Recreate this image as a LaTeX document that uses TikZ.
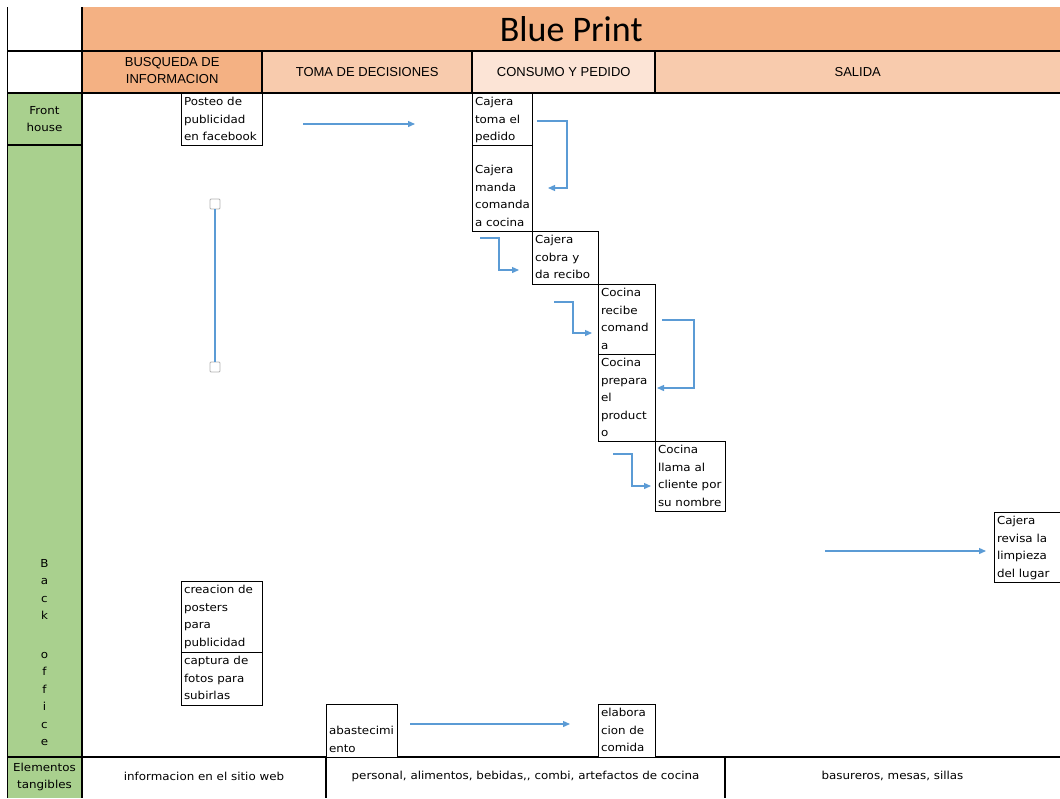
\documentclass[tikz,border=0pt]{standalone}
\usepackage{fontspec}
\usetikzlibrary{arrows.meta}
\newfontfamily\pxfont[FakeStretch=1.08]{DejaVu Sans}
\newfontfamily\hdfont{Liberation Sans}
\newfontfamily\ttlfont{Carlito}
\definecolor{hband}{HTML}{F4B183}
\definecolor{hlight}{HTML}{F8CBAD}
\definecolor{hpale}{HTML}{FCE4D6}
\definecolor{lgreen}{HTML}{A9D08E}
\definecolor{flowblue}{HTML}{5B9BD5}
\newcommand\bxt[4]{\parbox[c][#1pt][#3]{#2pt}{\raggedright\strut#4\strut}}
\begin{document}
\begin{tikzpicture}[x=1pt,y=-1pt,
  fillcell/.style={fill=#1, draw=none, inner sep=0pt, anchor=north west},
  box/.style={draw=black, line width=1pt, fill=white, inner xsep=2.5pt, inner ysep=0pt, anchor=north west, font=\pxfont\fontsize{11}{17.5}\selectfont},
  flow/.style={draw=flowblue, line width=1.3pt, -{Triangle[length=7pt,width=6pt]}},
  gridline/.style={draw=black, line width=1.3pt},
  hdr/.style={font=\hdfont\fontsize{13}{17}\selectfont, align=center},
  px/.style={font=\pxfont\fontsize{11}{17.5}\selectfont, align=center, inner sep=0pt},
  handle/.style={draw=gray!60, fill=white, line width=0.9pt, rounded corners=1pt, minimum size=10pt, inner sep=0pt}]
\useasboundingbox (0,0) rectangle (1060,798);
% header fills
\node[fillcell=hband, minimum width=978pt, minimum height=44pt, font=\ttlfont\fontsize{36}{40}\selectfont] (band) at (82,7) {Blue Print};
\node[fillcell=hband, minimum width=180pt, minimum height=42pt, hdr] (busq) at (82,51) {\raisebox{3pt}{\shortstack[c]{BUSQUEDA DE\\[2pt]INFORMACION}}};
\node[fillcell=hlight, minimum width=210pt, minimum height=42pt, hdr] (toma) at (262,51) {TOMA DE DECISIONES};
\node[fillcell=hpale, minimum width=183pt, minimum height=42pt, hdr] (consumo) at (472,51) {CONSUMO Y PEDIDO};
\node[fillcell=hlight, minimum width=405pt, minimum height=42pt, hdr] (salida) at (655,51) {SALIDA};
% left column fills
\node[fillcell=lgreen, minimum width=75pt, minimum height=52pt] (frontcell) at (7,93) {};
\node[fillcell=lgreen, minimum width=75pt, minimum height=612pt] (backcell) at (7,145) {};
\node[fillcell=lgreen, minimum width=75pt, minimum height=41pt] (elemcell) at (7,757) {};
% grid lines
\draw[gridline] (7.5,7) -- (7.5,798);
\draw[gridline] (82,7) -- (82,798);
\draw[gridline] (7,51) -- (1060,51);
\draw[gridline] (7,93) -- (1060,93);
\draw[gridline] (7,145) -- (82,145);
\draw[gridline] (7,757) -- (1060,757);
\draw[gridline] (262,51) -- (262,93);
\draw[gridline] (472,51) -- (472,93);
\draw[gridline] (655,51) -- (655,93);
\draw[gridline] (326,757) -- (326,798);
\draw[gridline] (725,757) -- (725,798);
% left labels
\node[px] (frontlbl) at (44.5,119) {Front\\house};
\node[px, anchor=north] (backlbl) at (44.5,559) {B\\a\\c\\k\\[21pt]o\\f\\f\\i\\c\\e};
\node[px] (elemlbl) at (44.5,777) {Elementos\\tangibles};
% bottom row texts
\node[px] (info) at (204,776) {informacion en el sitio web};
\node[px] (pers) at (525.5,776) {personal, alimentos, bebidas,, combi, artefactos de cocina};
\node[px] (basu) at (892.5,776) {basureros, mesas, sillas};
% boxes
\node[box] (posteo) at (181,93) {\bxt{52}{76}{t}{Posteo de\\publicidad\\en facebook}};
\node[box] (cajtoma) at (472,93) {\bxt{52}{55}{t}{Cajera\\toma el\\pedido}};
\node[box] (manda) at (472,145) {\bxt{80.75}{55}{b}{Cajera\\manda\\comanda\\a cocina}};
\node[box] (cobra) at (532,231) {\bxt{53}{61}{t}{Cajera\\cobra y\\da recibo}};
\node[box] (recibe) at (598,284) {\bxt{70}{52}{t}{Cocina\\recibe\\comand\\a}};
\node[box] (prepara) at (598,354) {\bxt{87}{52}{c}{Cocina\\prepara\\el\\product\\o}};
\node[box] (llama) at (655,441) {\bxt{70}{65}{t}{Cocina\\llama al\\cliente por\\su nombre}};
\node[box] (revisa) at (994,512) {\bxt{70}{60.5}{t}{Cajera\\revisa la\\limpieza\\del lugar}};
\node[box] (creacion) at (181,581) {\bxt{71}{76}{t}{creacion de\\posters\\para\\publicidad}};
\node[box] (captura) at (181,652) {\bxt{53}{76}{t}{captura de\\fotos para\\subirlas}};
\node[box] (abaste) at (326,704) {\bxt{47.75}{66}{b}{abastecimi\\ento}};
\node[box] (elabora) at (598,704) {\bxt{53}{52}{t}{elabora\\cion de\\comida}};
% handles line
\node[handle] (h1) at (215,204) {};
\node[handle] (h2) at (215,367) {};
\draw[draw=flowblue, line width=1.3pt] (h1) -- (h2);
% arrow end points
\coordinate (a1s) at (303,124); \coordinate (a1e) at (415,124);
\coordinate (a2s) at (537,121); \coordinate (a2e) at (548,188);
\coordinate (a3s) at (480,238); \coordinate (a3e) at (519,270);
\coordinate (a4s) at (554,302); \coordinate (a4e) at (592,333);
\coordinate (a5s) at (662,320); \coordinate (a5e) at (657,388);
\coordinate (a6s) at (613,454); \coordinate (a6e) at (651,486);
\coordinate (a7s) at (825,551); \coordinate (a7e) at (986,551);
\coordinate (a8s) at (410,724); \coordinate (a8e) at (570,724);
\draw[flow] (a1s) -- (a1e);
\draw[flow] (a2s) -- ++(30,0) |- (a2e);
\draw[flow] (a3s) -- ++(19,0) |- (a3e);
\draw[flow] (a4s) -- ++(19,0) |- (a4e);
\draw[flow] (a5s) -- ++(32,0) |- (a5e);
\draw[flow] (a6s) -- ++(19,0) |- (a6e);
\draw[flow] (a7s) -- (a7e);
\draw[flow] (a8s) -- (a8e);
\end{tikzpicture}
\end{document}
